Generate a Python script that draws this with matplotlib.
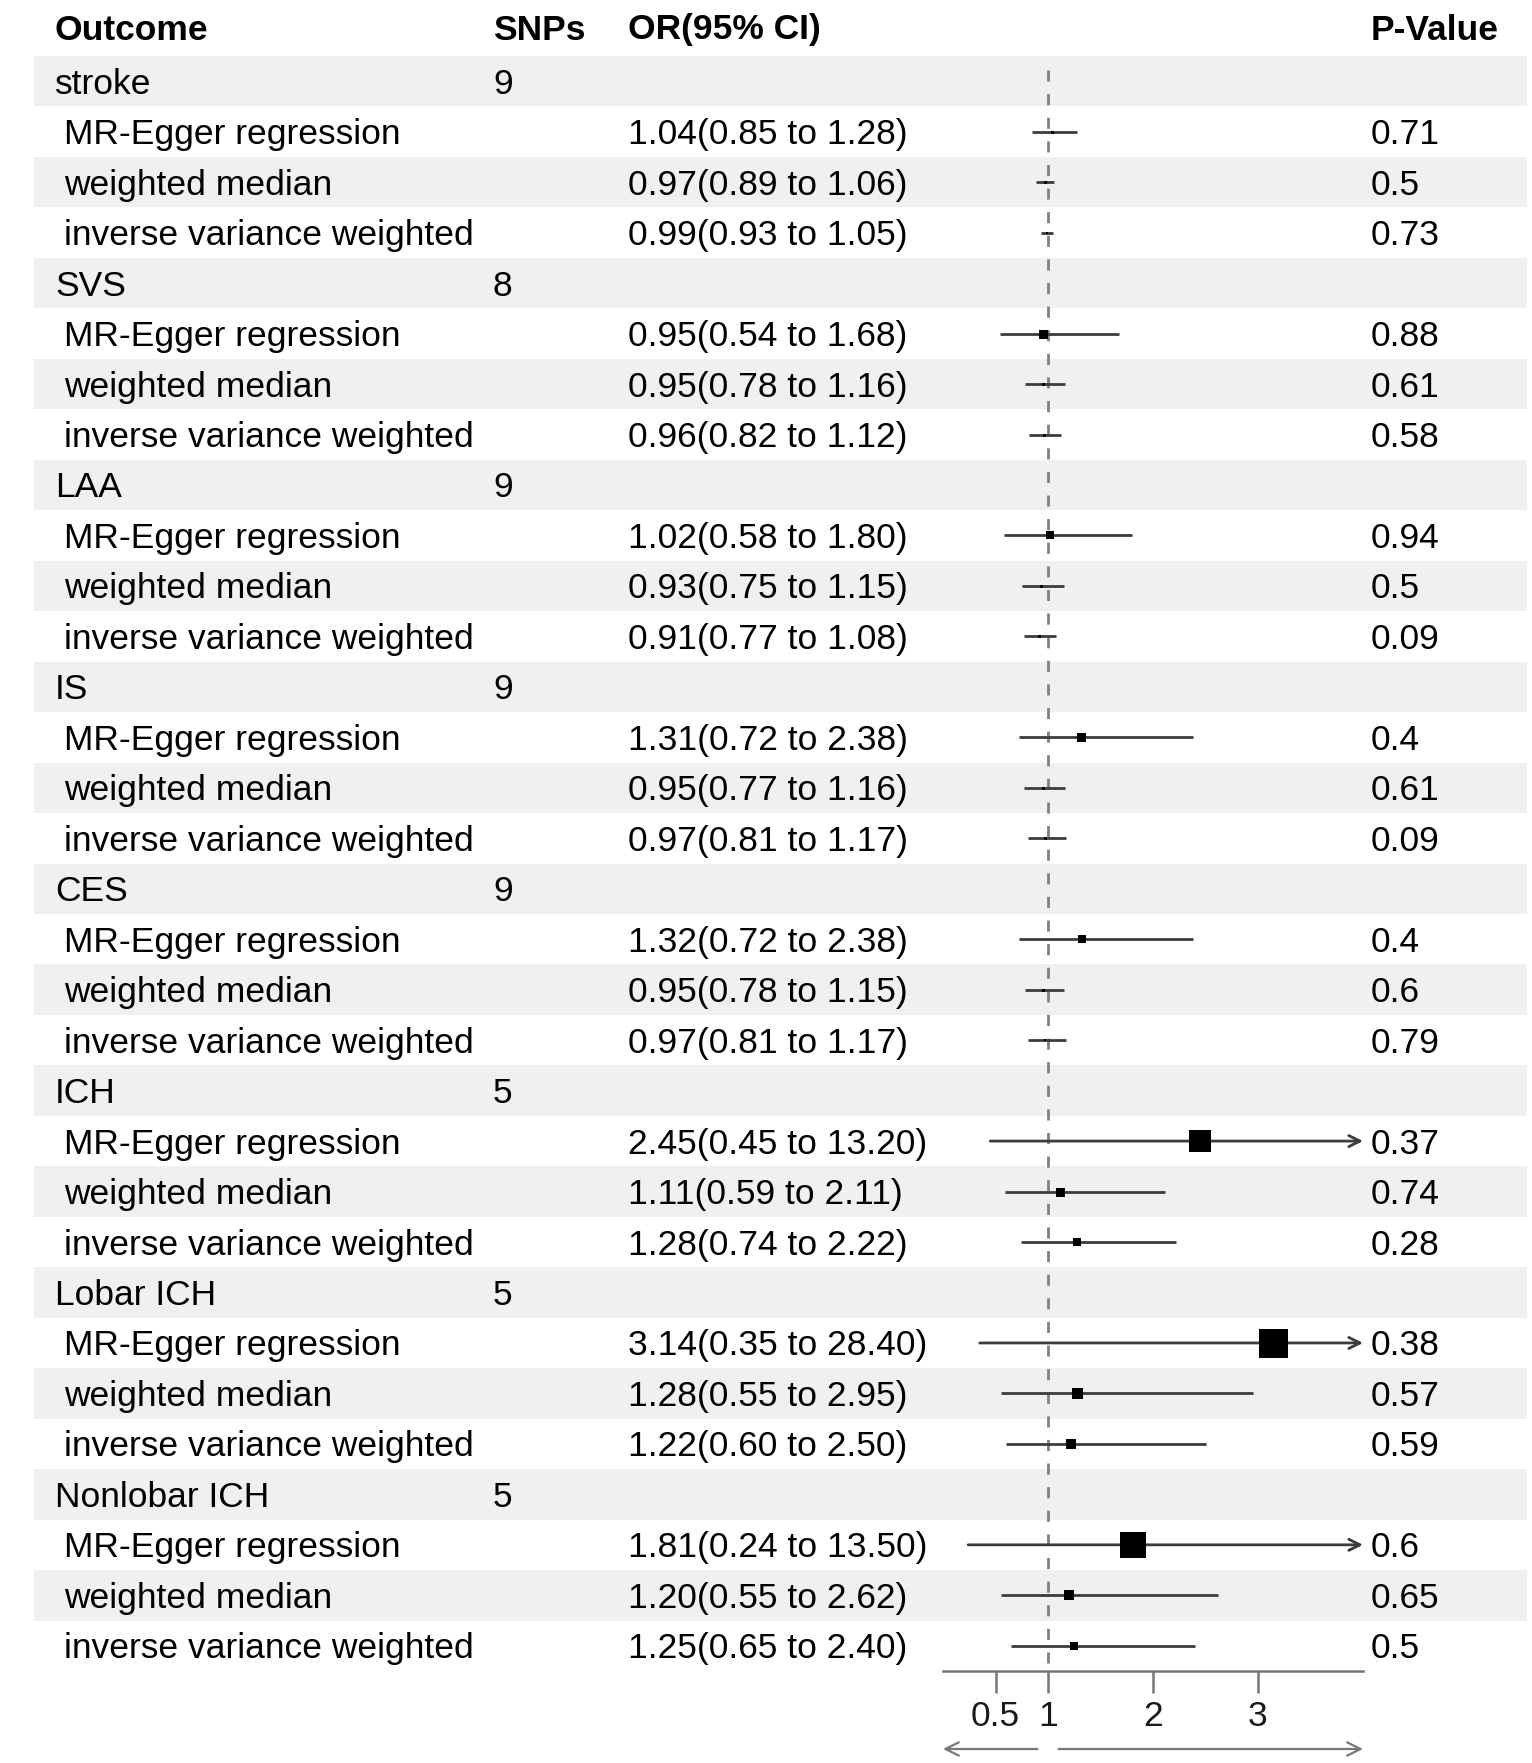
import matplotlib
matplotlib.use("Agg")
import matplotlib.pyplot as plt
from matplotlib.patches import Rectangle

plt.rcParams['font.family'] = ['Liberation Sans', 'DejaVu Sans']

# ---- data ----
groups = ["stroke", "SVS", "LAA", "IS", "CES", "ICH", "Lobar ICH", "Nonlobar ICH"]
snps = [9, 8, 9, 9, 9, 5, 5, 5]
methods = ["MR-Egger regression", "weighted median", "inverse variance weighted"]

or_est = [1.04, 0.97, 0.99, 0.95, 0.95, 0.96, 1.02, 0.93, 0.91,
          1.31, 0.95, 0.97, 1.32, 0.95, 0.97, 2.45, 1.11, 1.28,
          3.14, 1.28, 1.22, 1.81, 1.20, 1.25]
or_lo = [0.85, 0.89, 0.93, 0.54, 0.78, 0.82, 0.58, 0.75, 0.77,
         0.72, 0.77, 0.81, 0.72, 0.78, 0.81, 0.45, 0.59, 0.74,
         0.35, 0.55, 0.60, 0.24, 0.55, 0.65]
or_hi = [1.28, 1.06, 1.05, 1.68, 1.16, 1.12, 1.80, 1.15, 1.08,
         2.38, 1.16, 1.17, 2.38, 1.15, 1.17, 13.20, 2.11, 2.22,
         28.40, 2.95, 2.50, 13.50, 2.62, 2.40]
p_text = ["0.71", "0.5", "0.73", "0.88", "0.61", "0.58", "0.94", "0.5", "0.09",
          "0.4", "0.61", "0.09", "0.4", "0.6", "0.79", "0.37", "0.74", "0.28",
          "0.38", "0.57", "0.59", "0.6", "0.65", "0.5"]
# box side in pixels (relative weights as drawn)
box_px = [3, 3, 2, 9, 3, 3, 8, 3, 3,
          9, 3, 3, 8, 3, 2, 22, 9, 8,
          29, 11, 10, 26, 10, 8]

x_max = 4.0
ticks = [0.5, 1, 2, 3]

# ---- layout ----
W, H, DPI = 1532, 1763, 100
FS = 25.5
top, bottom = 56, 1671
n_rows = len(groups) * 4
pitch = (bottom - top) / n_rows
col_x = {"outcome": 55, "sub": 64, "snp": 493, "or": 628, "p": 1371}
fx0, fx1 = 943, 1363
dy = 3  # text sits a little below row centre

fig = plt.figure(figsize=(W / DPI, H / DPI), dpi=DPI)
bg = fig.add_axes([0, 0, 1, 1])
bg.set_xlim(0, W)
bg.set_ylim(H, 0)
bg.axis("off")

# header
hy = 27 + dy
bg.text(col_x["outcome"], hy, "Outcome", fontsize=FS, fontweight="bold", va="center")
bg.text(col_x["snp"], hy, "SNPs", fontsize=FS, fontweight="bold", va="center")
bg.text(col_x["or"], hy, "OR(95% CI)", fontsize=FS, fontweight="bold", va="center")
bg.text(col_x["p"], hy, "P-Value", fontsize=FS, fontweight="bold", va="center")

# table rows
for r in range(n_rows):
    y0 = top + r * pitch
    yc = y0 + pitch / 2 + dy
    if r % 2 == 0:
        bg.add_patch(Rectangle((34, y0), 1527 - 34, pitch, color="#eff0f0", lw=0, zorder=0))
    g, m = divmod(r, 4)
    if m == 0:
        bg.text(col_x["outcome"], yc, groups[g], fontsize=FS, va="center")
        bg.text(col_x["snp"], yc, str(snps[g]), fontsize=FS, va="center")
    else:
        k = g * 3 + (m - 1)
        bg.text(col_x["sub"], yc, methods[m - 1], fontsize=FS, va="center")
        bg.text(col_x["or"], yc, f"{or_est[k]:.2f}({or_lo[k]:.2f} to {or_hi[k]:.2f})",
                fontsize=FS, va="center")
        bg.text(col_x["p"], yc, p_text[k], fontsize=FS, va="center")

# ---- forest panel ----
ax = fig.add_axes([fx0 / W, (H - bottom) / H, (fx1 - fx0) / W, (bottom - top) / H])
ax.set_facecolor("none")
ax.set_xlim(0, x_max)
ax.set_ylim(n_rows, 0)
for s in ["top", "left", "right"]:
    ax.spines[s].set_visible(False)
ax.spines["bottom"].set_color("#777777")
ax.spines["bottom"].set_linewidth(1.8)
ax.set_yticks([])
ax.set_xticks(ticks)
ax.set_xticklabels(["0.5", "1", "2", "3"])
ax.tick_params(axis="x", length=16, width=1.8, color="#777777", pad=5,
               labelsize=FS, labelcolor="#1a1a1a")

ax.vlines(1, 0.28, n_rows, colors="#808080", linestyles=(0, (4, 4.5)), lw=2.0, zorder=1)

ci_col = "#3c3c3c"
for r in range(n_rows):
    g, m = divmod(r, 4)
    if m == 0:
        continue
    k = g * 3 + (m - 1)
    yc = r + 0.5
    if or_hi[k] > x_max:
        ax.annotate("", xy=(x_max, yc), xytext=(or_lo[k], yc),
                    arrowprops=dict(arrowstyle="->", color=ci_col, lw=2.0,
                                    shrinkA=0, shrinkB=0, mutation_scale=20),
                    annotation_clip=False, zorder=2)
    else:
        ax.hlines(yc, or_lo[k], or_hi[k], colors=ci_col, lw=2.0, zorder=2)
    side = box_px[k] * 72 / DPI
    ax.scatter([or_est[k]], [yc], marker="s", s=side ** 2, color="black",
               linewidths=0, zorder=3, clip_on=False)

# direction arrows under the axis
ay = (H - 1749) / H
ax.annotate("", xy=(0, ay), xytext=(0.9, ay), xycoords=("data", "figure fraction"),
            arrowprops=dict(arrowstyle="->", color="#777777", lw=1.6,
                            shrinkA=0, shrinkB=0, mutation_scale=24),
            annotation_clip=False)
ax.annotate("", xy=(x_max, ay), xytext=(1.1, ay), xycoords=("data", "figure fraction"),
            arrowprops=dict(arrowstyle="->", color="#777777", lw=1.6,
                            shrinkA=0, shrinkB=0, mutation_scale=24),
            annotation_clip=False)

fig.savefig("out.png", dpi=DPI, facecolor="white")
